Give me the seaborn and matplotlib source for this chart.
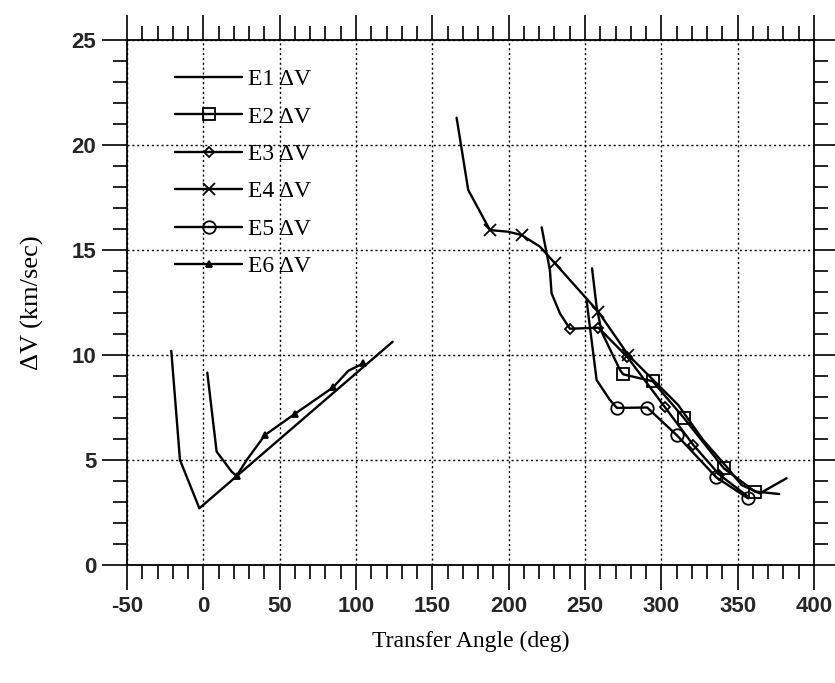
import numpy as np
import pandas as pd
import seaborn as sns
import matplotlib
matplotlib.use("Agg")
import matplotlib.pyplot as plt
from matplotlib.lines import Line2D
from matplotlib.ticker import MultipleLocator

# ---------------- data ----------------
e1_x = [-21.0, -15.3, -2.6, 124.0]
e1_y = [10.2, 5.0, 2.7, 10.63]

e2_x = [254.6, 257.6, 260.9, 272.9, 275.0, 294.3, 314.8, 341.0, 361.3, 377.2]
e2_y = [14.13, 12.3, 11.1, 9.29, 9.08, 8.75, 7.0, 4.6, 3.5, 3.38]
e2_marks = [4, 5, 6, 7, 8]

e3_x = [221.6, 227.0, 228.1, 233.6, 240.1, 258.8, 277.8, 302.3, 320.9, 338.0, 356.0]
e3_y = [16.08, 14.05, 12.94, 11.98, 11.25, 11.3, 9.9, 7.52, 5.72, 4.3, 3.3]
e3_marks = [4, 5, 6, 7, 8, 9]

e4_x = [165.9, 173.5, 187.7, 199.7, 208.5, 220.5, 230.3, 258.7, 278.3, 292.5,
        311.0, 327.4, 342.7, 352.5, 364.5, 382.0]
e4_y = [21.3, 17.86, 15.95, 15.87, 15.71, 15.16, 14.37, 12.06, 10.0, 8.97,
        7.62, 5.95, 4.68, 3.81, 3.41, 4.13]
e4_marks = [2, 4, 6, 7, 8]

e5_x = [251.0, 254.3, 257.6, 266.3, 270.9, 290.7, 310.0, 336.1, 356.9]
e5_y = [12.62, 10.71, 8.81, 7.86, 7.48, 7.5, 6.19, 4.17, 3.17]
e5_marks = [4, 5, 6, 7, 8]

e6_x = [2.6, 8.7, 18.6, 21.8, 28.4, 40.4, 60.0, 85.0, 95.0, 104.8]
e6_y = [9.16, 5.4, 4.44, 4.24, 5.0, 6.19, 7.2, 8.46, 9.25, 9.6]
e6_marks = [3, 5, 6, 7, 9]

labels = ["E1 \u0394V", "E2 \u0394V", "E3 \u0394V", "E4 \u0394V", "E5 \u0394V", "E6 \u0394V"]
x_ticks = [-50, 0, 50, 100, 150, 200, 250, 300, 350, 400]
y_ticks = [0, 5, 10, 15, 20, 25]

# ---------------- styling ----------------
sns.set_style("ticks")
plt.rcParams["font.family"] = ["Liberation Serif", "DejaVu Serif"]
plt.rcParams["axes.unicode_minus"] = False

fig = plt.figure(figsize=(8.35, 6.83), dpi=100)
ax = fig.add_axes([127 / 835, 1 - 565 / 683, (814 - 127) / 835, (565 - 40) / 683])

LW = 1.7
series = [
    (e1_x, e1_y, None, None, dict()),
    (e2_x, e2_y, e2_marks, "s", dict(markersize=8, markerfacecolor="none")),
    (e3_x, e3_y, e3_marks, "D", dict(markersize=5.5, markerfacecolor="none")),
    (e4_x, e4_y, e4_marks, "x", dict(markersize=9, markerfacecolor="none")),
    (e5_x, e5_y, e5_marks, "o", dict(markersize=9, markerfacecolor="none")),
    (e6_x, e6_y, e6_marks, "^", dict(markersize=4.5, markerfacecolor="black")),
]

handles = []
for (xs, ys, marks, mk, mkw), lab in zip(series, labels):
    df = pd.DataFrame({"x": xs, "y": ys})
    kw = dict(color="black", linewidth=LW)
    if mk is not None:
        kw.update(marker=mk, markevery=marks, markeredgecolor="black",
                  markeredgewidth=1.3, **mkw)
    sns.lineplot(data=df, x="x", y="y", ax=ax, sort=False, estimator=None,
                 legend=False, **kw)
    hkw = dict(color="black", linewidth=LW)
    if mk is not None:
        hkw.update(marker=mk, markeredgecolor="black", markeredgewidth=1.3, **mkw)
    handles.append(Line2D([], [], **hkw))

ax.set_xlim(-50, 400)
ax.set_ylim(0, 25)
ax.set_xticks(x_ticks)
ax.set_yticks(y_ticks)
ax.xaxis.set_minor_locator(MultipleLocator(10))
ax.yaxis.set_minor_locator(MultipleLocator(1))

ax.grid(True, which="major", color="black", linestyle=(0, (1.5, 2)), linewidth=1.0)
ax.tick_params(which="both", direction="out", top=True, right=True,
               labeltop=False, labelright=False, width=1.2, color="black")
ax.tick_params(which="major", length=18, pad=4)
ax.tick_params(which="minor", length=10)
for sp in ax.spines.values():
    sp.set_linewidth(1.3)
    sp.set_color("black")

for t in ax.get_xticklabels() + ax.get_yticklabels():
    t.set_fontfamily(["Liberation Sans", "DejaVu Sans"])
    t.set_fontweight("bold")
    t.set_fontsize(16)

ax.set_xlabel("Transfer Angle (deg)", fontsize=17, labelpad=10, color="black")
ax.set_ylabel("\u0394V (km/sec)", fontsize=19, labelpad=20, color="black")

leg = ax.legend(handles, labels, loc="upper left", bbox_to_anchor=(0.07, 0.945),
                frameon=False, fontsize=17, handlelength=2.84, handletextpad=0.25,
                labelspacing=0.67, borderpad=0, borderaxespad=0)
for t in leg.get_texts():
    t.set_color("black")

fig.savefig("out.png", dpi=100)
